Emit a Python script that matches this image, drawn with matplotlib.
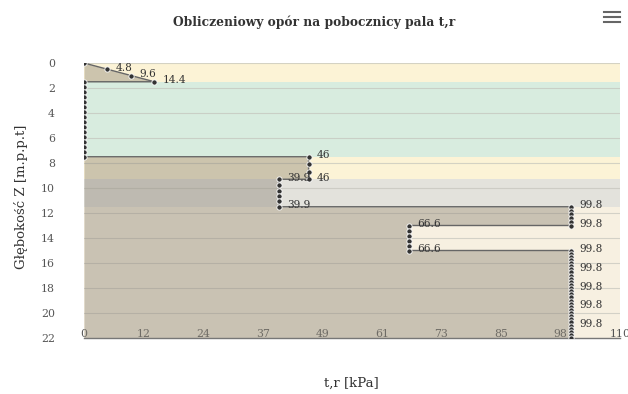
import numpy as np
import matplotlib
matplotlib.use("Agg")
import matplotlib.pyplot as plt
from matplotlib.lines import Line2D

# --- dane: glebokosc [m] i opor t,r [kPa] ---
depth = [0.0, 0.5, 1.0, 1.5,
         1.5, 1.9, 2.3, 2.7, 3.1, 3.5, 3.9, 4.3, 4.7, 5.1, 5.5, 5.9, 6.3, 6.7, 7.1, 7.5,
         7.5, 8.1, 8.7, 9.3,
         9.3, 9.75, 10.2, 10.65, 11.05, 11.5,
         11.5, 11.8, 12.1, 12.4, 12.7, 13.0,
         13.0, 13.4, 13.8, 14.2, 14.6, 15.0,
         15.0, 15.25, 15.5, 15.75, 16.0, 16.25, 16.5, 16.75, 17.0, 17.25, 17.5, 17.75,
         18.0, 18.25, 18.5, 18.75, 19.0, 19.25, 19.5, 19.75, 20.0, 20.25, 20.5, 20.75,
         21.0, 21.25, 21.5, 21.75, 22.0]
tr = [0.0, 4.8, 9.6, 14.4,
      0, 0, 0, 0, 0, 0, 0, 0, 0, 0, 0, 0, 0, 0, 0, 0,
      46, 46, 46, 46,
      39.9, 39.9, 39.9, 39.9, 39.9, 39.9,
      99.8, 99.8, 99.8, 99.8, 99.8, 99.8,
      66.6, 66.6, 66.6, 66.6, 66.6, 66.6,
      99.8, 99.8, 99.8, 99.8, 99.8, 99.8, 99.8, 99.8, 99.8, 99.8, 99.8, 99.8,
      99.8, 99.8, 99.8, 99.8, 99.8, 99.8, 99.8, 99.8, 99.8, 99.8, 99.8, 99.8,
      99.8, 99.8, 99.8, 99.8, 99.8]
extra_label_depths = [16.5, 18.0, 19.5, 21.0]

# warstwy gruntu (pasy tla)
layer_top = [0.0, 1.5, 7.5, 9.3, 11.5]
layer_bot = [1.5, 7.5, 9.3, 11.5, 22.0]
layer_col = ['#fcf3d6', '#d8ecdf', '#fcf3d6', '#e3e2dc', '#f7f0e1']

x_max = 109.78
x_ticklabels = ['0', '12', '24', '37', '49', '61', '73', '85', '98', '110']
y_ticks = [0, 2, 4, 6, 8, 10, 12, 14, 16, 18, 20, 22]

W, H = 628, 394
fig = plt.figure(figsize=(W / 100, H / 100), dpi=100)
ax = fig.add_axes([84 / W, 1 - 338 / H, 536 / W, 275 / H])

serif = 'DejaVu Serif'
txt = '#333333'

for top, bot, c in zip(layer_top, layer_bot, layer_col):
    ax.axhspan(top, bot, color=c, lw=0, zorder=0)

for yt in y_ticks:
    ax.axhline(yt, color='#c4c4bc', lw=0.8, alpha=0.7, zorder=1)

ax.fill_betweenx(depth, 0, tr, color='#8f887a', alpha=0.44, lw=0, zorder=2)
ax.plot(tr, depth, color='#666666', lw=1, zorder=3,
        marker='o', ms=3.8, mfc='#333333', mec='#ffffff', mew=0.6)

n = len(depth)
for i in range(n):
    if tr[i] <= 0 or depth[i] >= 22:
        continue
    prev_diff = i == 0 or tr[i - 1] != tr[i]
    next_diff = i < n - 1 and tr[i + 1] != tr[i]
    if prev_diff or next_diff or depth[i] in extra_label_depths:
        ax.annotate(f'{tr[i]:g}', (tr[i], depth[i]), xytext=(6, 1),
                    textcoords='offset points', ha='left', va='center',
                    fontsize=7.6, family=serif, color=txt, zorder=4)

ax.set_xlim(0, x_max)
ax.set_ylim(22, 0)
ax.set_xticks(np.linspace(0, x_max, len(x_ticklabels)))
ax.set_xticklabels(x_ticklabels)
ax.set_yticks(y_ticks)
ax.tick_params(axis='x', length=0, pad=-6.5, labelsize=7.8, labelcolor='#555555')
ax.tick_params(axis='y', length=0, pad=21, labelsize=7.8, labelcolor='#555555')
for lab in ax.get_xticklabels() + ax.get_yticklabels():
    lab.set_family(serif)
for lab in ax.get_yticklabels():
    lab.set_horizontalalignment('right')

for s in ['top', 'right', 'left']:
    ax.spines[s].set_visible(False)
ax.spines['bottom'].set_color('#777777')
ax.spines['bottom'].set_linewidth(1)

ax.set_xlabel('t,r [kPa]', family=serif, fontsize=9.5, color=txt)
ax.xaxis.set_label_coords(0.498, -0.142)
ax.set_ylabel('Głębokość Z [m.p.p.t]', family=serif, fontsize=9.5, color=txt)
ax.yaxis.set_label_coords(-0.1045, 0.513)

fig.text(314 / W, 1 - 22 / H, 'Obliczeniowy opór na pobocznicy pala t,r',
         ha='center', va='center', family=serif, fontsize=8.8, fontweight='bold',
         color=txt)

# ikona menu
for yy in [12, 17, 22]:
    fig.add_artist(Line2D([604 / W, 620 / W], [1 - yy / H, 1 - yy / H],
                          color='#666666', lw=1.5, transform=fig.transFigure))

fig.savefig('out.png', dpi=100)
